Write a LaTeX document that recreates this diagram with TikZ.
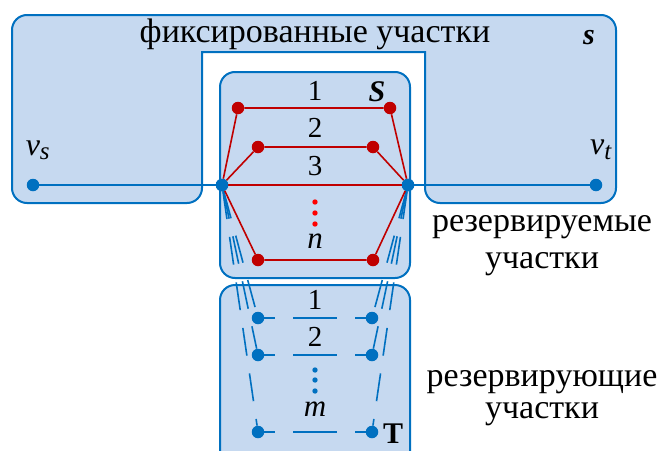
\documentclass[tikz,border=0pt]{standalone}
\usepackage{fontspec}
\setmainfont{Liberation Serif}
\usepackage{xcolor}
\definecolor{pFill}{HTML}{C6D9F0}
\definecolor{pBlue}{HTML}{0070C0}
\definecolor{pRed}{HTML}{C00000}
\definecolor{pDot}{HTML}{FF0000}
\usetikzlibrary{arrows.meta, positioning}
\tikzset{
  region/.style={draw=pBlue, fill=pFill, line width=2pt},
  bnode/.style={circle, fill=pBlue, inner sep=0pt, minimum size=12.5pt},
  rnode/.style={circle, fill=pRed, inner sep=0pt, minimum size=12.5pt},
  bline/.style={pBlue, line width=1.8pt},
  rline/.style={pRed, line width=1.6pt},
  tline/.style={pBlue, line width=1.8pt, dash pattern=on 44pt off 18pt, dash phase=33pt},
  sline/.style={pBlue, line width=1.6pt, dash pattern=on 28pt off 18pt},
  lbl/.style={font=\fontsize{29}{31}\selectfont, inner sep=0pt},
  txt/.style={font=\fontsize{34}{36}\selectfont, inner sep=0pt}
}
\begin{document}
\begin{tikzpicture}[x=1pt, y=-1pt]
\useasboundingbox (0,0) rectangle (661,450);

% fixed sections
\draw[region] (12,109) [rounded corners=15pt] -- (12,15) -- (616,15) -- (616,203)
  -- (425,203) -- (425,120) [sharp corners] -- (425,52) -- (202,52) -- (202,120)
  [rounded corners=15pt] -- (202,203) -- (12,203) -- cycle;
\draw[region, rounded corners=15pt] (220,72) rectangle (410,278);
\draw[region, rounded corners=15pt] (220,285) rectangle (410,470);

\node[txt] (fixtxt) at (315,34) {фиксированные участки};
\node[lbl, font=\fontsize{30}{32}\selectfont\bfseries\itshape] (slbl) at (589,38) {s};

% nodes
\node[bnode] (vs) at (33,185) {};
\node[bnode] (vt) at (596,185) {};
\node[bnode] (hubL) at (222,185) {};
\node[bnode] (hubR) at (408,185) {};
\node[rnode] (rL1) at (238,108) {};
\node[rnode] (rR1) at (390,108) {};
\node[rnode] (rL2) at (258,147) {};
\node[rnode] (rR2) at (373,147) {};
\node[rnode] (rLn) at (258,260) {};
\node[rnode] (rRn) at (373,260) {};
\node[bnode] (tL1) at (258,318) {};
\node[bnode] (tR1) at (372,318) {};
\node[bnode] (tL2) at (258,355) {};
\node[bnode] (tR2) at (372,355) {};
\node[bnode] (tLm) at (258,432) {};
\node[bnode] (tRm) at (372,432) {};

% reserving sections
\foreach \a/\b in {hubL/tL1, hubL/tL2, hubL/tLm, hubR/tR1, hubR/tR2, hubR/tRm}
  \draw[sline] (\a) -- (\b);
\foreach \a/\b in {tL1/tR1, tL2/tR2, tLm/tRm}
  \draw[tline] (\a) -- (\b);

% reserved sections
\draw[bline] (vs) -- (hubL);
\draw[bline] (hubR) -- (vt);
\draw[rline] (hubL) -- (hubR);
\draw[rline] (hubL) -- (rL1) -- (rR1) -- (hubR);
\draw[rline] (hubL) -- (rL2) -- (rR2) -- (hubR);
\draw[rline] (hubL) -- (rLn) -- (rRn) -- (hubR);
\node[bnode] at (hubL) {};
\node[bnode] at (hubR) {};

% labels
\node[lbl, font=\fontsize{32}{34}\selectfont\itshape] (vslbl) at (38,150) {v\textsubscript{\fontsize{25}{27}\selectfont s}};
\node[lbl, font=\fontsize{32}{34}\selectfont\itshape] (vtlbl) at (601,150) {v\textsubscript{\fontsize{25}{27}\selectfont t}};
\node[lbl] (n1) at (315,91) {1};
\node[lbl] (n2) at (315,128) {2};
\node[lbl] (n3) at (315,166) {3};
\foreach \y in {202,213,224}
  \fill[pDot] (315,\y) circle (2.7pt);
\node[lbl, font=\fontsize{31}{33}\selectfont\itshape] (nn) at (315,241) {n};
\node[lbl, font=\fontsize{30}{32}\selectfont\bfseries\itshape] (Slbl) at (377,92) {S};
\node[lbl] (m1) at (315,300) {1};
\node[lbl] (m2) at (315,337) {2};
\foreach \y in {370,380,391}
  \fill[pBlue] (315,\y) circle (2.7pt);
\node[lbl, font=\fontsize{31}{33}\selectfont\itshape] (mm) at (315,409) {m};
\node[lbl, font=\fontsize{30}{32}\selectfont\bfseries] (Tlbl) at (393,434) {T};

\node[txt] (rsv1) at (542,227) {резервируемые};
\node[txt] (rsv2) at (542,264) {участки};
\node[txt] (rsg1) at (542,382) {резервирующие};
\node[txt] (rsg2) at (542,414) {участки};
\end{tikzpicture}
\end{document}
